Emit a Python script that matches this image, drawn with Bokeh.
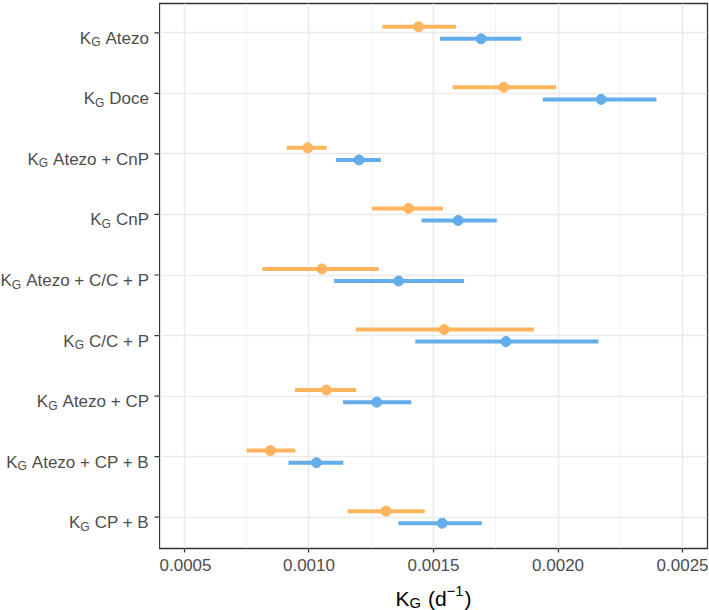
from bokeh.plotting import figure
from bokeh.models import Range1d, FixedTicker, ColumnDataSource
from bokeh.layouts import column, row
from bokeh.core.properties import value
from bokeh.embed import file_html
from bokeh.resources import INLINE

# ---------------- data ----------------
categories = ["Atezo", "Doce", "Atezo + CnP", "CnP", "Atezo + C/C + P",
              "C/C + P", "Atezo + CP", "Atezo + CP + B", "CP + B"]
orange_est = [0.001440, 0.001782, 0.000995, 0.001400, 0.001052, 0.001543, 0.001070, 0.000845, 0.001310]
orange_low = [0.001295, 0.001577, 0.000911, 0.001253, 0.000813, 0.001188, 0.000944, 0.000750, 0.001155]
orange_high = [0.001590, 0.001993, 0.001071, 0.001538, 0.001280, 0.001903, 0.001189, 0.000945, 0.001465]
blue_est = [0.001691, 0.002173, 0.001201, 0.001599, 0.001360, 0.001791, 0.001272, 0.001030, 0.001535]
blue_low = [0.001526, 0.001939, 0.001108, 0.001452, 0.001101, 0.001427, 0.001137, 0.000918, 0.001359]
blue_high = [0.001852, 0.002395, 0.001289, 0.001754, 0.001623, 0.002162, 0.001411, 0.001138, 0.001694]
x_ticks = [0.0005, 0.0010, 0.0015, 0.0020, 0.0025]
x_minor = [0.00075, 0.00125, 0.00175, 0.00225]
x_tick_labels = ["0.0005", "0.0010", "0.0015", "0.0020", "0.0025"]
label_prefix_main = "K"
label_prefix_sub = "G"
x_title_parts = ["K", "G", "(d", "\u22121", ")"]

ORANGE = "#FFB45E"
BLUE = "#63ADEB"
FONT = "Liberation Sans"

# ---------------- layout ----------------
LEFT_W = 159
MAIN_W = 550
TOP_B = 3
FRAME_H = 545
XAX_H = 28
MAIN_H = TOP_B + FRAME_H + XAX_H
TITLE_H = 34
X0, X1 = 0.0004, 0.0026
Y0, Y1 = 0.483, 9.484

n = len(categories)
pos = [n - i for i in range(n)]
pos_o = [p_ + 0.1 for p_ in pos]
pos_b = [p_ - 0.1 for p_ in pos]

yr = Range1d(Y0, Y1)

p = figure(width=MAIN_W, height=MAIN_H, output_backend="svg", toolbar_location=None,
           x_range=Range1d(X0, X1), y_range=yr,
           min_border_left=0, min_border_right=2, min_border_top=TOP_B, min_border_bottom=XAX_H)
p.background_fill_color = "white"
p.border_fill_color = "white"
p.outline_line_color = "#333333"
p.outline_line_width = 1.3

p.xaxis.ticker = FixedTicker(ticks=x_ticks, minor_ticks=x_minor)
p.yaxis.ticker = FixedTicker(ticks=pos)
p.ygrid.ticker = FixedTicker(ticks=pos)
p.yaxis.visible = False
p.xgrid.grid_line_color = "#EBEBEB"
p.xgrid.grid_line_width = 1.6
p.xgrid.minor_grid_line_color = "#F0F0F0"
p.xgrid.minor_grid_line_width = 0.9
p.ygrid.grid_line_color = "#EBEBEB"
p.ygrid.grid_line_width = 1.6

ax = p.xaxis
ax.axis_line_color = None
ax.major_tick_line_color = "#333333"
ax.major_tick_line_width = 1.2
ax.major_tick_out = 4
ax.major_tick_in = 0
ax.minor_tick_line_color = None
ax.axis_label = None
ax.major_label_overrides = {t: l for t, l in zip(x_ticks, x_tick_labels)}
ax.major_label_text_font = FONT
ax.major_label_text_font_size = "17px"
ax.major_label_text_color = "#4D4D4D"
ax.major_label_standoff = 6

p.segment(x0=orange_low, x1=orange_high, y0=pos_o, y1=pos_o, line_color=ORANGE, line_width=4)
p.segment(x0=blue_low, x1=blue_high, y0=pos_b, y1=pos_b, line_color=BLUE, line_width=4)
p.scatter(x=orange_est, y=pos_o, size=10, fill_color=ORANGE, line_color=ORANGE)
p.scatter(x=blue_est, y=pos_b, size=10, fill_color=BLUE, line_color=BLUE)

# ---------------- text width helper (Arial / Liberation Sans metrics) ----------------
AW = {' ': 278, 'A': 667, 't': 278, 'e': 556, 'z': 500, 'o': 556, 'D': 722, 'c': 500,
      'C': 722, 'n': 556, 'P': 667, 'B': 667, 'K': 667, 'G': 778, '/': 278, '+': 584,
      '(': 333, ')': 333, 'd': 556, '1': 556, '\u2212': 584}


def tw(s, fs):
    return sum(AW.get(c, 556) for c in s) * fs / 1000.0


PPU = FRAME_H / (Y1 - Y0)

# ---------------- left label panel ----------------
lp = figure(width=LEFT_W, height=MAIN_H, output_backend="svg", toolbar_location=None,
            x_range=Range1d(0, LEFT_W), y_range=yr,
            min_border_left=0, min_border_right=0, min_border_top=TOP_B, min_border_bottom=XAX_H)
lp.axis.visible = False
lp.grid.visible = False
lp.outline_line_color = None
lp.background_fill_color = "white"
lp.border_fill_color = "white"

FS, SFS = 17, 12
RIGHT_EDGE = 148.5
base = [yc - 5.5 / PPU for yc in pos]
rest_x = [RIGHT_EDGE - tw(c, FS) for c in categories]
g_x = [rx - 5 - tw(label_prefix_sub, SFS) for rx in rest_x]
k_x = [gx - tw(label_prefix_main, FS) for gx in g_x]
src = ColumnDataSource(dict(rest=categories, rx=rest_x, gx=g_x, kx=k_x, by=base,
                            gy=[b - 4 / PPU for b in base],
                            k=[label_prefix_main] * n, g=[label_prefix_sub] * n,
                            y=pos))
common = dict(source=src, text_font=value(FONT), text_color="#4D4D4D",
              text_align="left", text_baseline="alphabetic")
lp.text(x="rx", y="by", text="rest", text_font_size=value(f"{FS}px"), **common)
lp.text(x="gx", y="gy", text="g", text_font_size=value(f"{SFS}px"), **common)
lp.text(x="kx", y="by", text="k", text_font_size=value(f"{FS}px"), **common)
# y-axis ticks
lp.segment(x0=[LEFT_W - 5] * n, x1=[LEFT_W] * n, y0=pos, y1=pos,
           line_color="#333333", line_width=1.2)

# ---------------- x-axis title panel ----------------
TOTAL_W = LEFT_W + MAIN_W
tp = figure(width=TOTAL_W, height=TITLE_H, output_backend="svg", toolbar_location=None,
            x_range=Range1d(0, TOTAL_W), y_range=Range1d(0, TITLE_H),
            min_border=0)
tp.axis.visible = False
tp.grid.visible = False
tp.outline_line_color = None
tp.background_fill_color = "white"
tp.border_fill_color = "white"

TF, TSF = 21, 14.7
sizes = [TF, TSF, TF, TSF, TF]
shifts = [0, -4, 0, 8, 0]
gaps = [0, 0, 7, 0, 1]
widths = [tw(s, f) for s, f in zip(x_title_parts, sizes)]
total = sum(widths) + sum(gaps)
cx = LEFT_W + (MAIN_W - 2) / 2.0
xs = []
xcur = cx - total / 2.0
for gp, w in zip(gaps, widths):
    xcur += gp
    xs.append(xcur)
    xcur += w
base_title = 12
for part, fs, sh, xx in zip(x_title_parts, sizes, shifts, xs):
    tp.text(x=[xx], y=[base_title + sh], text=[part], text_font=value(FONT),
            text_font_size=value(f"{fs}px"), text_color="black",
            text_align="left", text_baseline="alphabetic")

layout = column(row(lp, p), tp)
open("out.html", "w").write(file_html(layout, INLINE))
